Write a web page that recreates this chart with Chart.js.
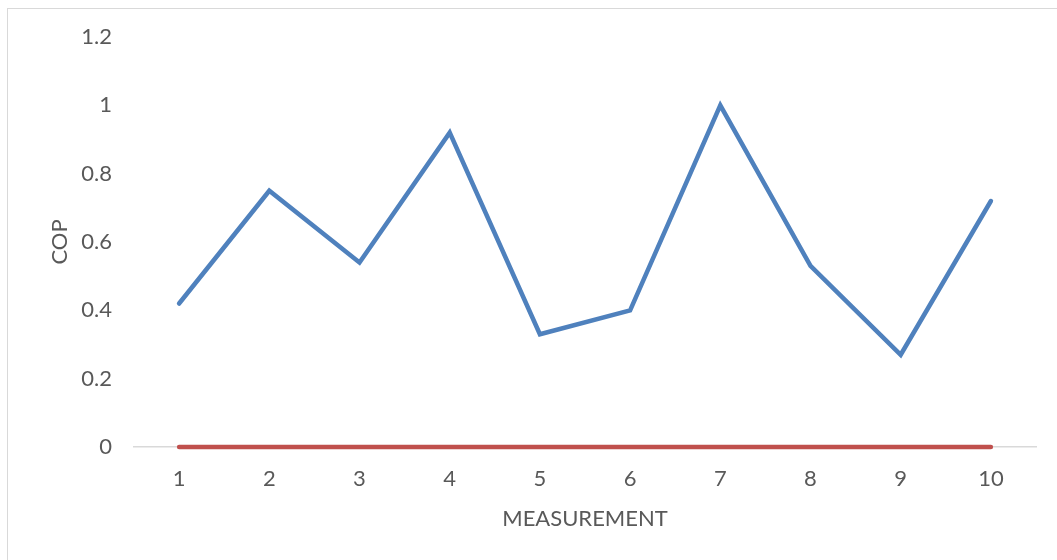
<!DOCTYPE html>
<html lang="en">
<head>
    <meta charset="UTF-8">
    <title>COP</title>
    <script src="https://cdn.jsdelivr.net/npm/chart.js"></script>
    <style>
        body {
            margin: 0;
            background: #fff;
        }
        .frame {
            position: absolute;
            left: 7px;
            top: 8px;
            width: 1050px;
            height: 552px;
            border-top: 1.5px solid #d9d9d9;
            border-left: 1.5px solid #d9d9d9;
        }
        .chart-box {
            position: absolute;
            left: 0;
            top: 0;
            width: 1057px;
            height: 560px;
        }
    </style>
</head>
<body>
    <div class="frame"></div>
    <div class="chart-box">
        <canvas id="copChart"></canvas>
    </div>

    <script>
        // data
        const measurements = ['1', '2', '3', '4', '5', '6', '7', '8', '9', '10'];
        const copValues = [0.42, 0.75, 0.54, 0.92, 0.33, 0.40, 1.0, 0.53, 0.27, 0.72];
        const baseValues = [0, 0, 0, 0, 0, 0, 0, 0, 0, 0];

        const txt = '#595959';
        const font = { family: 'Lato, "Open Sans", sans-serif', size: 22 };

        new Chart(document.getElementById('copChart'), {
            type: 'line',
            data: {
                labels: measurements,
                datasets: [{
                    label: 'COP',
                    data: copValues,
                    borderColor: '#4f81bd',
                    borderWidth: 4.5,
                    pointRadius: 0,
                    borderCapStyle: 'round',
                    tension: 0,
                    clip: 10
                }, {
                    label: 'Base',
                    data: baseValues,
                    borderColor: '#c0504d',
                    borderWidth: 4.5,
                    pointRadius: 0,
                    borderCapStyle: 'round',
                    tension: 0,
                    clip: 10
                }]
            },
            options: {
                responsive: true,
                maintainAspectRatio: false,
                animation: false,
                layout: {
                    padding: { left: 8, right: 21, top: 37, bottom: 28 }
                },
                plugins: {
                    legend: { display: false },
                    tooltip: { enabled: false }
                },
                scales: {
                    x: {
                        offset: true,
                        grid: { display: false, drawTicks: false },
                        border: { display: true, color: '#d9d9d9', width: 1.5 },
                        ticks: { color: txt, font: font, padding: 19, maxRotation: 0 },
                        title: {
                            display: true,
                            text: 'MEASUREMENT',
                            color: txt,
                            font: font,
                            padding: { top: 0, bottom: 0 }
                        },
                        afterFit: function (scale) {
                            scale.height = 85;
                        }
                    },
                    y: {
                        min: 0,
                        max: 1.2,
                        grid: { display: false, drawTicks: false },
                        border: { display: false },
                        ticks: {
                            color: txt,
                            font: font,
                            padding: 22,
                            stepSize: 0.2,
                            callback: function (v) { return String(Math.round(v * 10) / 10); }
                        },
                        title: {
                            display: true,
                            text: 'COP',
                            color: txt,
                            font: font,
                            padding: { top: 39, bottom: 0 }
                        },
                        afterFit: function (scale) {
                            scale.width = 126;
                        }
                    }
                }
            }
        });
    </script>
</body>
</html>
